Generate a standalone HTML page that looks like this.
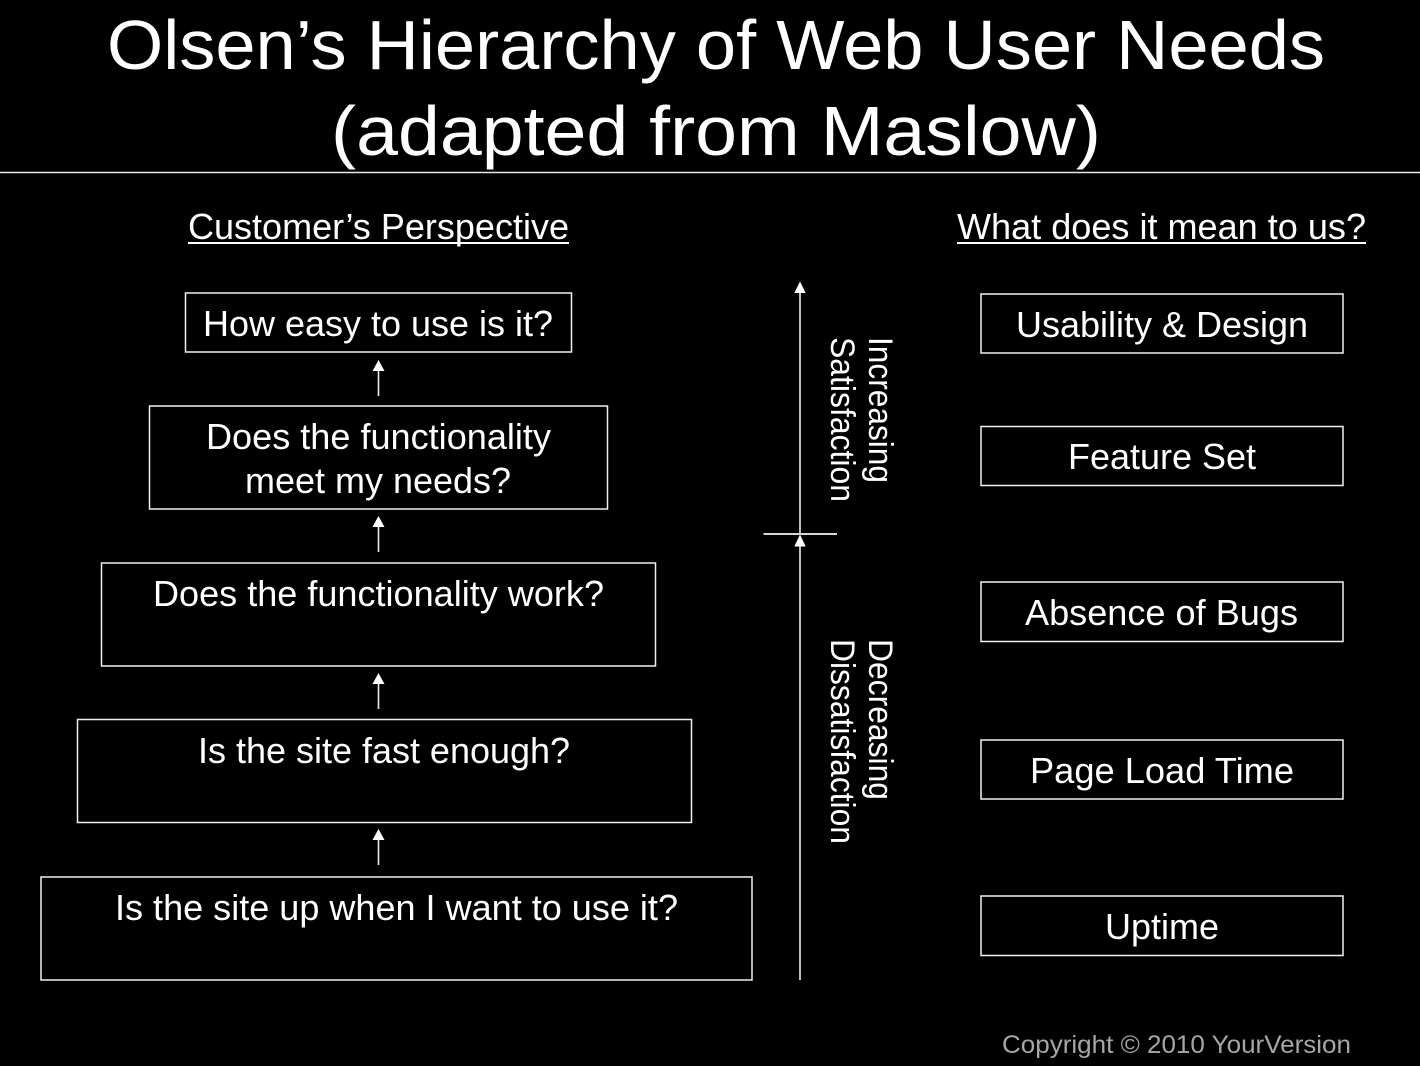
<!DOCTYPE html>
<html><head><meta charset="utf-8"><style>
html,body{margin:0;padding:0;background:#000;width:1420px;height:1066px;overflow:hidden}
svg{display:block}
text{font-family:"Liberation Sans",sans-serif;fill:#fff;font-size:36px}
.b{fill:none;stroke:#f0f0f0;stroke-width:1.5}
.l{stroke:#eeeeee;stroke-width:1.6;fill:none}
.h{fill:#fff}
</style></head><body>
<svg width="1420" height="1066" viewBox="0 0 1420 1066" xmlns="http://www.w3.org/2000/svg">
<rect width="1420" height="1066" fill="#000"/>
<text x="107" y="69" style="font-size:70px" textLength="1218" lengthAdjust="spacingAndGlyphs">Olsen’s Hierarchy of Web User Needs</text>
<text x="331" y="155" style="font-size:70px" textLength="770" lengthAdjust="spacingAndGlyphs">(adapted from Maslow)</text>
<line x1="0" y1="172.5" x2="1420" y2="172.5" stroke="#e8e8e8" stroke-width="1.6"/>

<text x="188" y="239" textLength="381" lengthAdjust="spacingAndGlyphs">Customer’s Perspective</text>
<line x1="188" y1="243" x2="569" y2="243" stroke="#fff" stroke-width="2"/>
<text x="957" y="239" textLength="409" lengthAdjust="spacingAndGlyphs">What does it mean to us?</text>
<line x1="957" y1="243" x2="1366" y2="243" stroke="#fff" stroke-width="2"/>

<rect class="b" x="185.5" y="293" width="386" height="59"/>
<text x="203" y="336" textLength="350" lengthAdjust="spacingAndGlyphs">How easy to use is it?</text>
<rect class="b" x="149.5" y="406" width="458" height="103"/>
<text x="206" y="449" textLength="345" lengthAdjust="spacingAndGlyphs">Does the functionality</text>
<text x="245" y="493" textLength="266" lengthAdjust="spacingAndGlyphs">meet my needs?</text>
<rect class="b" x="101.5" y="563" width="554" height="103"/>
<text x="153" y="606" textLength="451" lengthAdjust="spacingAndGlyphs">Does the functionality work?</text>
<rect class="b" x="77.5" y="719.5" width="614" height="103"/>
<text x="198" y="763" textLength="372" lengthAdjust="spacingAndGlyphs">Is the site fast enough?</text>
<rect class="b" x="41" y="877" width="711" height="103"/>
<text x="115" y="920" textLength="563" lengthAdjust="spacingAndGlyphs">Is the site up when I want to use it?</text>

<line class="l" x1="378.5" y1="369" x2="378.5" y2="396"/><polygon class="h" points="378.5,360 372.5,371 384.5,371"/>
<line class="l" x1="378.5" y1="525" x2="378.5" y2="552"/><polygon class="h" points="378.5,516 372.5,527 384.5,527"/>
<line class="l" x1="378.5" y1="682" x2="378.5" y2="709"/><polygon class="h" points="378.5,673 372.5,684 384.5,684"/>
<line class="l" x1="378.5" y1="838" x2="378.5" y2="865"/><polygon class="h" points="378.5,829 372.5,840 384.5,840"/>

<line class="l" x1="800" y1="290" x2="800" y2="534"/>
<polygon class="h" points="800,281.5 794.3,293 805.7,293"/>
<line x1="763.5" y1="534" x2="837" y2="534" stroke="#d8d8d8" stroke-width="2"/>
<line class="l" x1="800" y1="545" x2="800" y2="980"/>
<polygon class="h" points="800,534.5 794.3,546.5 805.7,546.5"/>

<text transform="translate(869,337) rotate(90)" style="font-size:34px" textLength="146" lengthAdjust="spacingAndGlyphs">Increasing</text>
<text transform="translate(831,337) rotate(90)" style="font-size:34px" textLength="165" lengthAdjust="spacingAndGlyphs">Satisfaction</text>
<text transform="translate(869,639) rotate(90)" style="font-size:34px" textLength="161" lengthAdjust="spacingAndGlyphs">Decreasing</text>
<text transform="translate(831,639) rotate(90)" style="font-size:34px" textLength="205" lengthAdjust="spacingAndGlyphs">Dissatisfaction</text>

<rect class="b" x="981" y="294" width="362" height="59"/>
<text x="1016" y="337" textLength="292" lengthAdjust="spacingAndGlyphs">Usability &amp; Design</text>
<rect class="b" x="981" y="426.5" width="362" height="59"/>
<text x="1068" y="469" textLength="188" lengthAdjust="spacingAndGlyphs">Feature Set</text>
<rect class="b" x="981" y="582" width="362" height="59.5"/>
<text x="1025" y="625" textLength="273" lengthAdjust="spacingAndGlyphs">Absence of Bugs</text>
<rect class="b" x="981" y="740" width="362" height="59"/>
<text x="1030" y="783" textLength="264" lengthAdjust="spacingAndGlyphs">Page Load Time</text>
<rect class="b" x="981" y="896" width="362" height="59.5"/>
<text x="1105" y="939" textLength="114" lengthAdjust="spacingAndGlyphs">Uptime</text>

<text x="1002" y="1053" style="font-size:25px;fill:#a6a6a6" textLength="349" lengthAdjust="spacingAndGlyphs">Copyright © 2010 YourVersion</text>
</svg>
</body></html>
